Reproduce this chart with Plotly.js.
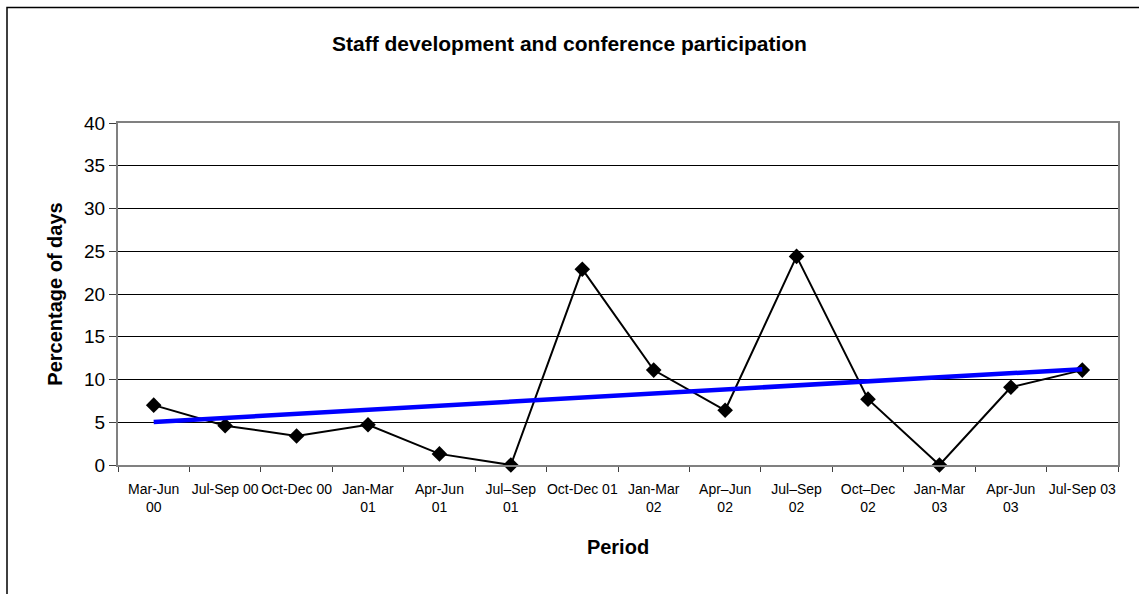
<!DOCTYPE html>
<html>
<head>
<meta charset="utf-8">
<script src="https://cdn.plot.ly/plotly-3.0.1.min.js"></script>
<style>
  html, body { margin: 0; padding: 0; background: #ffffff; }
  #chart { width: 1139px; height: 594px; }
</style>
</head>
<body>
<div id="chart"></div>
<script>
// ---- data ----
const periods = [
  "Mar-Jun<br>00", "Jul-Sep 00", "Oct-Dec 00", "Jan-Mar<br>01", "Apr-Jun<br>01",
  "Jul\u2013Sep<br>01", "Oct-Dec 01", "Jan-Mar<br>02", "Apr\u2013Jun<br>02", "Jul\u2013Sep<br>02",
  "Oct\u2013Dec<br>02", "Jan-Mar<br>03", "Apr-Jun<br>03", "Jul-Sep 03"
];
const percentDays = [7.0, 4.6, 3.4, 4.7, 1.3, 0, 22.9, 11.1, 6.4, 24.4, 7.7, 0, 9.1, 11.1];
const yTicks = [0, 5, 10, 15, 20, 25, 30, 35, 40];

const chartTitle = "Staff development and conference participation";
const xTitle = "Period";
const yTitle = "Percentage of days";

// ---- linear trend line (least squares over the series, as the original) ----
const n = percentDays.length;
const idx = percentDays.map((_, i) => i);
const mx = idx.reduce((a, b) => a + b, 0) / n;
const my = percentDays.reduce((a, b) => a + b, 0) / n;
let sxy = 0, sxx = 0;
idx.forEach((x, i) => { sxy += (x - mx) * (percentDays[i] - my); sxx += (x - mx) * (x - mx); });
const slope = sxy / sxx;
const intercept = my - slope * mx;
const trendY = idx.map(x => intercept + slope * x);

const FONT = "Liberation Sans, Arial, Helvetica, sans-serif";

const traces = [
  {
    type: "scatter", mode: "lines+markers",
    x: periods, y: percentDays,
    line: { color: "#000000", width: 2 },
    marker: { symbol: "diamond", size: 12, color: "#000000" },
    cliponaxis: false, showlegend: false, hoverinfo: "x+y"
  },
  {
    type: "scatter", mode: "lines",
    x: periods, y: trendY,
    line: { color: "#0000FF", width: 4.5 },
    cliponaxis: false, showlegend: false, hoverinfo: "skip"
  }
];

const W = 1139, H = 594;
const L = 118, R = 21, T = 123, B = 129;
const pw = W - L - R, ph = H - T - B;
const px = v => (v - L) / pw;          // pixel -> paper x
const py = v => (H - B - v) / ph;      // pixel -> paper y

const layout = {
  width: W, height: H,
  margin: { l: L, r: R, t: T, b: B, pad: 0 },
  paper_bgcolor: "#ffffff", plot_bgcolor: "#ffffff",
  font: { family: FONT, color: "#000000" },
  title: {
    text: "<b>" + chartTitle + "</b>",
    font: { family: FONT, size: 21, color: "#000000" },
    xref: "container", x: 0.5, xanchor: "center",
    yref: "container", y: 1 - 44 / H, yanchor: "middle"
  },
  xaxis: {
    type: "category",
    range: [-0.5, n - 0.5],
    tickson: "boundaries",
    ticks: "outside", ticklen: 5, tickcolor: "#404040", tickwidth: 1,
    tickangle: 0,
    ticklabelstandoff: 10,
    tickfont: { family: FONT, size: 14, color: "#000000" },
    showgrid: false, zeroline: false,
    showline: true, linecolor: "#808080", linewidth: 2, mirror: true,
    title: { text: "<b>" + xTitle + "</b>", font: { family: FONT, size: 20, color: "#000000" }, standoff: 26 },
    fixedrange: true
  },
  yaxis: {
    range: [0, 40],
    tickvals: yTicks,
    ticks: "outside", ticklen: 7, tickcolor: "#404040", tickwidth: 1,
    tickfont: { family: FONT, size: 19, color: "#000000" },
    showgrid: true, gridcolor: "#000000", gridwidth: 1,
    zeroline: false,
    showline: true, linecolor: "#808080", linewidth: 2, mirror: true,
    title: { text: "<b>" + yTitle + "</b>", font: { family: FONT, size: 20, color: "#000000" }, standoff: 16 },
    fixedrange: true
  },
  shapes: [
    {
      type: "rect", xref: "paper", yref: "paper", layer: "below",
      x0: px(7), x1: px(W + 20), y0: py(H + 20), y1: py(7.5),
      line: { color: "#000000", width: 1.5 }, fillcolor: "rgba(0,0,0,0)"
    }
  ]
};

Plotly.newPlot("chart", traces, layout, { displayModeBar: false, staticPlot: true });
</script>
</body>
</html>
